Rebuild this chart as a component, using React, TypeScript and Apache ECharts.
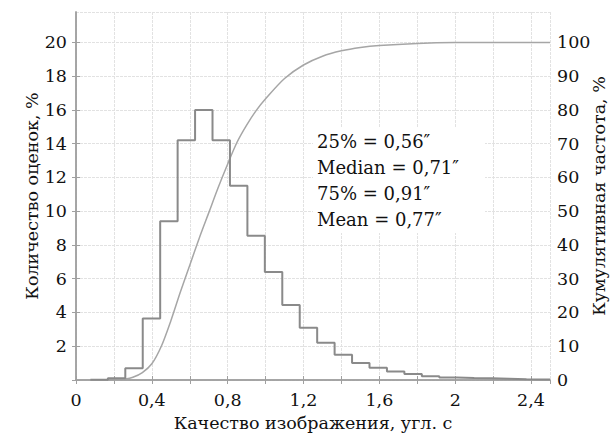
import React, { useEffect, useRef } from "react";
import * as echarts from "echarts";

// Histogram bin edges (arcsec) and per-bin share of estimates (%)
const binEdges = [0.076, 0.168, 0.26, 0.352, 0.444, 0.536, 0.628, 0.72, 0.812, 0.904, 0.996, 1.088, 1.18, 1.272, 1.364, 1.456, 1.548, 1.64, 1.732, 1.824, 1.916, 2.008, 2.1, 2.192, 2.284, 2.376, 2.468];
const binValues = [0.01, 0.1, 0.7, 3.65, 9.4, 14.2, 16.0, 14.2, 11.5, 8.55, 6.4, 4.45, 3.1, 2.2, 1.5, 1.0, 0.72, 0.5, 0.35, 0.22, 0.15, 0.12, 0.1, 0.08, 0.05, 0.03];

// Cumulative frequency curve
const cumX = [0.2, 0.26, 0.3, 0.35, 0.4, 0.45, 0.5, 0.55, 0.6, 0.65, 0.7, 0.75, 0.8, 0.85, 0.9, 0.95, 1.0, 1.1, 1.2, 1.3, 1.4, 1.5, 1.6, 1.8, 2.0, 2.5];
const cumY = [0, 0.3, 0.8, 2.2, 4.8, 10, 17.5, 26, 34, 42, 49.5, 57, 64, 70.5, 75.5, 79.8, 83.3, 89.3, 93.3, 95.9, 97.5, 98.5, 99.1, 99.7, 99.95, 100];

const xTickLabels = ["0", "0,4", "0,8", "1,2", "1,6", "2", "2,4"];
const leftTickLabels = ["2", "4", "6", "8", "10", "12", "14", "16", "18", "20"];
const rightTickLabels = ["0", "10", "20", "30", "40", "50", "60", "70", "80", "90", "100"];

const statsLines = ["25% = 0,56″", "Median = 0,71″", "75% = 0,91″", "Mean = 0,77″"];

const FONT = "DejaVu Serif";
const FS = 17.5;
const AXIS_COLOR = "#a0a0a0";
const GRID_COLOR = "#e2e2e2";

export default function App() {
  const ref = useRef<HTMLDivElement>(null);
  useEffect(() => {
    if (!ref.current) return;
    const chart = echarts.init(ref.current, undefined, { renderer: "svg" });

    const histData: number[][] = [];
    for (let i = 0; i < binValues.length; i++) histData.push([binEdges[i], binValues[i]]);
    histData.push([binEdges[binEdges.length - 1], binValues[binValues.length - 1]]);
    histData.push([2.5, binValues[binValues.length - 1]]);

    const cumData = cumX.map((x, i) => [x, cumY[i]]);

    const xFmt = (v: number) => {
      const k = v / 0.4;
      const r = Math.round(k);
      if (Math.abs(k - r) > 1e-6) return "";
      return xTickLabels[r] ?? "";
    };
    const leftFmt = (v: number) => {
      const k = v / 2;
      const r = Math.round(k);
      if (Math.abs(k - r) > 1e-6 || r < 1) return "";
      return leftTickLabels[r - 1] ?? "";
    };
    const rightFmt = (v: number) => {
      const k = v / 10;
      const r = Math.round(k);
      if (Math.abs(k - r) > 1e-6) return "";
      return rightTickLabels[r] ?? "";
    };

    const textStyle = { fontFamily: FONT, fontSize: FS, color: "#111" };

    chart.setOption({
      animation: false,
      backgroundColor: "#fff",
      textStyle: { fontFamily: FONT },
      grid: { left: 76, right: 62, top: 12, bottom: 52 },
      xAxis: [
        {
          type: "value",
          min: 0,
          max: 2.5,
          interval: 0.2,
          position: "bottom",
          name: "Качество изображения, угл. с",
          nameLocation: "middle",
          nameGap: 34,
          nameMoveOverlap: false,
          nameTextStyle: textStyle,
          axisLine: { show: true, lineStyle: { color: AXIS_COLOR, width: 1.5 } },
          axisTick: { show: true, inside: true, length: 4, lineStyle: { color: AXIS_COLOR } },
          axisLabel: { ...textStyle, margin: 11, formatter: xFmt, showMaxLabel: false },
          splitLine: { show: true, lineStyle: { color: GRID_COLOR, width: 1, type: [3, 1] } },
        },
        {
          type: "value",
          min: 0,
          max: 2.5,
          interval: 0.2,
          position: "top",
          axisLine: { show: true, lineStyle: { color: AXIS_COLOR, width: 1.5 } },
          axisTick: { show: true, inside: true, length: 4, lineStyle: { color: AXIS_COLOR } },
          axisLabel: { show: false },
          splitLine: { show: false },
        },
      ],
      yAxis: [
        {
          type: "value",
          min: 0,
          max: 21.8,
          interval: 2,
          position: "left",
          name: "Количество оценок, %",
          nameLocation: "middle",
          nameGap: 35,
          nameMoveOverlap: false,
          nameTextStyle: textStyle,
          axisLine: { show: true, lineStyle: { color: AXIS_COLOR, width: 1.5 } },
          axisTick: { show: true, inside: true, length: 4, lineStyle: { color: AXIS_COLOR } },
          axisLabel: { ...textStyle, margin: 9, formatter: leftFmt, showMaxLabel: false },
          splitLine: { show: true, lineStyle: { color: GRID_COLOR, width: 1, type: [3, 1] } },
        },
        {
          type: "value",
          min: 0,
          max: 109,
          interval: 10,
          position: "right",
          name: "Кумулятивная частота, %",
          nameLocation: "middle",
          nameGap: 40,
          nameMoveOverlap: false,
          nameTextStyle: textStyle,
          axisLine: { show: true, lineStyle: { color: AXIS_COLOR, width: 1.5 } },
          axisTick: { show: true, inside: true, length: 4, lineStyle: { color: AXIS_COLOR } },
          axisLabel: { ...textStyle, margin: 7, formatter: rightFmt, showMaxLabel: false },
          splitLine: { show: false },
        },
      ],
      graphic: [
        {
          type: "rect",
          z: 50,
          shape: { x: 313, y: 128, width: 172, height: 105 },
          style: { fill: "#fff" },
        },
        {
          type: "text",
          z: 51,
          x: 317,
          y: 128,
          style: {
            text: statsLines.join("\n"),
            fontFamily: FONT,
            fontSize: 18,
            lineHeight: 26,
            fill: "#111",
            verticalAlign: "top",
            align: "left",
          },
        },
      ],
      series: [
        {
          type: "line",
          xAxisIndex: 0,
          yAxisIndex: 0,
          step: "end",
          symbol: "none",
          data: histData,
          lineStyle: { color: "#8a8a8a", width: 2 },
          z: 3,
        },
        {
          type: "line",
          xAxisIndex: 0,
          yAxisIndex: 1,
          smooth: 0.3,
          symbol: "none",
          data: cumData,
          lineStyle: { color: "#a6a6a6", width: 1.5 },
          z: 2,
        },
      ],
    });
    return () => chart.dispose();
  }, []);
  return (
    <div
      ref={ref}
      style={{ position: "fixed", left: 0, top: 0, width: 616, height: 437, background: "#fff" }}
    />
  );
}
